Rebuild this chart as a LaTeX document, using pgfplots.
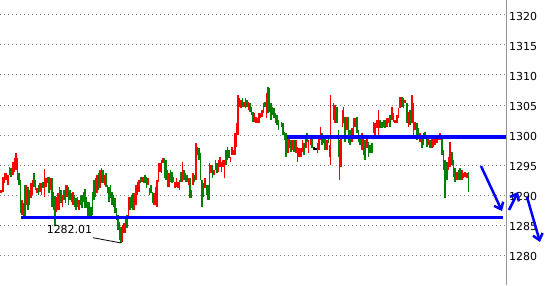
\documentclass[border=0pt]{standalone}
\usepackage{fontspec}
\setmainfont{DejaVu Sans}
\usepackage{pgfplots}
\pgfplotsset{compat=1.18}
\usepackage{pgfplotstable}
\usetikzlibrary{arrows.meta}
\definecolor{cred}{RGB}{255,0,0}
\definecolor{cgreen}{RGB}{0,128,0}
\definecolor{cblue}{RGB}{0,0,255}
\definecolor{cgrid}{RGB}{128,128,128}
\definecolor{caxis}{RGB}{150,150,150}

\pgfplotstableread{
x lo hi
1 1290.33 1290.83
3 1290.5 1293.0
4.5 1292.0 1293.67
6 1292.5 1293.67
8 1291.67 1293.33
9.5 1293.33 1294.67
13 1293.33 1295.5
14.5 1293.83 1296.17
16 1294.17 1297.0
22 1286.67 1289.17
26.5 1288.33 1291.67
31 1289.5 1292.0
32.5 1290.0 1292.5
35.5 1290.83 1292.5
37 1290.33 1291.17
40 1290.5 1292.0
41.5 1290.0 1292.0
44.5 1289.67 1294.33
46 1291.33 1292.83
47.5 1292.0 1293.0
50.5 1290.83 1292.83
56.5 1287.17 1289.67
58 1287.5 1290.33
62.5 1288.0 1290.0
65.5 1288.67 1291.67
67 1289.67 1291.67
71.5 1288.83 1290.33
73 1288.33 1290.5
77.5 1288.0 1289.67
79 1287.5 1289.17
83.5 1288.83 1290.5
89.5 1286.33 1288.83
95.5 1289.67 1292.83
97 1290.33 1293.33
100 1291.17 1294.17
101.5 1292.0 1294.5
104.5 1291.67 1293.33
107.5 1290.33 1291.67
122.5 1282.17 1285.0
124 1283.67 1285.33
125.5 1283.67 1286.17
128.5 1286.17 1289.67
131.5 1287.83 1290.0
134.5 1287.5 1290.33
136 1288.33 1291.67
137.5 1290.0 1292.17
139 1290.5 1292.5
142 1292.17 1293.0
143.5 1292.0 1293.0
148 1291.67 1292.83
154 1288.33 1290.33
157 1288.0 1292.5
158.5 1292.17 1295.33
160 1293.83 1295.33
163 1295.33 1296.17
169 1291.33 1293.67
173.5 1292.17 1293.0
175 1291.17 1292.17
176.5 1291.33 1292.83
178 1291.17 1292.17
179.5 1290.83 1292.5
182.5 1292.17 1295.5
185.5 1292.17 1293.67
188.5 1291.67 1292.83
193 1291.67 1293.67
196 1292.5 1298.67
197.5 1296.67 1298.0
205 1291.17 1292.83
209.5 1289.17 1295.33
211 1293.67 1295.0
214 1293.33 1294.17
215.5 1294.17 1295.83
218.5 1293.83 1295.83
220 1294.67 1296.33
223 1294.67 1295.83
224.5 1292.83 1295.83
230.5 1295.5 1296.33
232 1296.67 1298.0
235 1296.67 1300.33
236.5 1298.0 1302.0
238 1300.0 1306.67
241 1304.5 1305.83
244 1304.67 1305.5
248.5 1304.17 1305.5
254.5 1302.17 1303.67
256 1302.0 1303.0
259 1302.0 1303.67
260.5 1302.83 1303.67
262 1303.0 1304.17
263.5 1303.67 1305.33
266.5 1302.83 1307.0
269.5 1303.83 1307.83
281.5 1301.33 1302.17
287.7 1297.0 1299.67
289 1297.83 1299.5
292.3 1297.5 1299.17
295.7 1297.0 1299.17
299 1296.33 1297.83
300.7 1296.33 1297.83
302.3 1297.17 1299.17
305.7 1297.83 1299.5
308.3 1297.0 1299.17
310.3 1298.33 1299.5
319 1297.5 1299.67
320.3 1299.17 1301.33
326.7 1297.5 1299.17
329.3 1296.33 1298.33
330.3 1295.0 1306.67
335 1302.0 1305.0
340.7 1294.67 1299.67
342.3 1301.33 1304.17
346.7 1300.83 1303.0
351.7 1298.83 1301.17
353.3 1300.0 1302.83
355 1301.33 1302.83
361.7 1297.5 1300.33
366.7 1297.83 1299.5
373.3 1300.33 1302.17
375 1300.0 1302.0
376.7 1301.17 1302.5
378.3 1300.0 1304.17
383.3 1301.33 1302.5
386.7 1301.33 1302.83
388.3 1302.0 1302.83
391.7 1302.5 1304.67
395 1302.0 1302.5
396.7 1302.0 1303.33
398.3 1302.83 1304.5
400 1304.5 1306.33
403.3 1304.5 1306.17
405 1305.33 1305.83
408.3 1301.33 1303.83
411.7 1302.0 1306.67
415 1300.83 1302.17
420 1298.83 1300.33
428.3 1298.33 1299.5
431.7 1297.83 1299.67
433.3 1298.0 1299.67
435 1298.33 1299.67
436.7 1298.67 1299.67
438.3 1299.17 1300.0
440 1299.17 1300.33
448.3 1294.17 1296.33
450 1294.67 1298.83
456.7 1292.5 1293.83
461.7 1292.5 1294.17
463.3 1292.83 1293.67
465 1293.0 1293.83
466.7 1292.83 1293.67
}\redtab

\pgfplotstableread{
x lo hi
11 1293.0 1294.5
17.5 1292.5 1296.17
19 1291.67 1293.67
20.5 1287.0 1292.5
23.5 1286.17 1288.67
25 1286.33 1291.67
28 1287.5 1291.33
29.5 1288.33 1290.83
34 1291.33 1293.67
38.5 1290.0 1291.67
43 1291.17 1292.17
49 1290.33 1293.0
52 1288.0 1292.83
53.5 1287.5 1290.5
55 1284.83 1289.83
59.5 1287.5 1291.33
61 1288.67 1290.83
64 1289.17 1290.83
68.5 1288.33 1291.33
70 1289.17 1290.83
74.5 1288.0 1290.0
76 1287.5 1289.5
80.5 1288.33 1289.83
82 1287.83 1290.0
85 1287.83 1291.0
86.5 1287.83 1289.67
88 1286.17 1288.83
91 1286.33 1288.0
92.5 1286.67 1290.5
94 1289.17 1292.5
98.5 1290.83 1293.67
103 1292.0 1294.17
106 1291.33 1293.67
109 1288.83 1291.33
110.5 1289.5 1291.67
112 1288.33 1290.5
113.5 1288.0 1290.0
115 1287.0 1289.5
116.5 1285.83 1287.83
118 1284.17 1286.67
119.5 1282.5 1285.5
121 1282.01 1284.67
127 1284.5 1286.67
130 1287.5 1289.67
133 1287.5 1290.33
140.5 1292.0 1293.0
145 1292.0 1293.33
146.5 1291.17 1293.0
149.5 1290.0 1291.17
151 1290.33 1291.67
152.5 1288.67 1290.5
155.5 1288.33 1291.33
161.5 1293.67 1295.83
164.5 1292.83 1296.17
166 1292.5 1295.83
167.5 1291.33 1294.17
170.5 1292.17 1294.17
172 1292.0 1293.83
181 1292.17 1293.83
184 1292.5 1294.17
187 1292.17 1293.33
190 1289.5 1292.83
191.5 1289.5 1290.83
194.5 1292.17 1293.33
199 1295.83 1297.83
200.5 1292.5 1297.0
202 1288.0 1292.5
203.5 1289.67 1292.0
206.5 1290.0 1291.67
208 1289.17 1291.67
212.5 1292.83 1295.0
217 1293.67 1295.33
221.5 1293.83 1295.5
226 1295.0 1297.5
227.5 1295.83 1298.0
229 1296.17 1297.5
233.5 1296.67 1297.5
239.5 1304.67 1306.17
242.5 1304.67 1306.17
245.5 1304.5 1306.17
247 1304.67 1305.83
250 1303.83 1305.33
251.5 1303.33 1304.67
253 1302.17 1303.83
257.5 1302.0 1302.83
265 1304.67 1305.5
268 1303.67 1308.0
271 1302.5 1305.33
272.5 1303.33 1304.67
274 1302.83 1304.5
275.5 1302.0 1303.67
277 1301.67 1303.33
278.5 1300.83 1302.5
283 1300.0 1302.0
284.5 1299.17 1300.5
286 1296.33 1300.33
290.7 1297.17 1299.17
294 1297.17 1299.17
297.3 1295.5 1298.0
304 1296.67 1298.67
306.7 1298.83 1300.33
311.7 1297.83 1299.67
317.3 1297.0 1298.67
321.7 1298.33 1300.33
323.3 1298.67 1300.0
325 1297.5 1299.5
328.3 1298.67 1299.67
333.3 1302.5 1305.33
336.7 1302.0 1304.67
338.3 1296.33 1300.83
339.3 1292.5 1299.17
343.3 1302.0 1304.67
345 1298.83 1303.0
348.3 1298.67 1303.0
350 1298.33 1300.83
356.7 1300.33 1303.0
358.3 1298.83 1300.83
360 1298.33 1299.5
363.3 1296.67 1299.67
365 1295.83 1299.17
368.3 1296.33 1298.83
370 1297.0 1298.33
371.7 1297.0 1298.67
380 1301.17 1302.5
381.7 1301.17 1302.17
385 1301.17 1302.5
390 1301.33 1303.33
393.3 1302.17 1303.67
401.7 1304.67 1306.33
406.7 1302.0 1305.33
410 1301.67 1304.17
413.3 1300.0 1305.33
416.7 1299.17 1302.0
418.3 1299.5 1301.17
421.7 1297.83 1299.5
423.3 1298.33 1300.33
425 1299.5 1300.5
426.7 1298.0 1299.67
430 1297.83 1299.17
441.7 1296.67 1299.67
443.3 1294.17 1297.5
445 1289.5 1295.83
446.7 1292.5 1295.5
451.7 1295.0 1297.17
453.3 1293.0 1295.83
455 1292.17 1294.5
458.3 1292.5 1294.17
460 1292.5 1294.5
468.3 1290.5 1293.83
}\greentab

\pgfplotstableread{
x lo hi
314 1297.5 1298.0
315.7 1297.5 1297.83
}\blacktab

\begin{document}
\begin{tikzpicture}[x=1pt,y=1pt]
\useasboundingbox (0,0) rectangle (546,285);
\begin{axis}[
  at={(0,0)}, anchor=south west,
  scale only axis, width=506pt, height=285pt,
  xmin=0, xmax=506, ymin=1275, ymax=1322.5,
  clip=false,
  axis x line=none,
  axis y line*=right,
  y axis line style={draw=caxis, line width=1pt},
  ytick={1280,1285,1290,1295,1300,1305,1310,1315,1320},
  yticklabels={1280,1285,1290,1295,1300,1305,1310,1315,1320},
  major tick length=0pt,
  yticklabel style={anchor=west, inner sep=0pt, xshift=3pt, yshift=-1.5pt,
    font=\fontsize{11}{13}\selectfont, text=black},
  ymajorgrids,
  major grid style={cgrid, line width=1pt, dash pattern=on 1.2pt off 2.8pt},
  candle/.style={only marks, mark=*, mark size=0pt,
    mark options={draw=none, fill=none}},
]
\addplot[candle, error bars/.cd, y dir=plus, y explicit,
  error mark=none, error bar style={draw=cred, line width=1.6pt}]
  table[x=x, y=lo, y error expr=\thisrow{hi}-\thisrow{lo}] {\redtab};
\addplot[candle, error bars/.cd, y dir=plus, y explicit,
  error mark=none, error bar style={draw=cgreen, line width=1.6pt}]
  table[x=x, y=lo, y error expr=\thisrow{hi}-\thisrow{lo}] {\greentab};
\addplot[candle, error bars/.cd, y dir=plus, y explicit,
  error mark=none, error bar style={draw=black, line width=1.6pt}]
  table[x=x, y=lo, y error expr=\thisrow{hi}-\thisrow{lo}] {\blacktab};

% support and resistance lines
\addplot[cblue, line width=3.5pt] coordinates {(21,1286.22) (503,1286.22)};
\addplot[cblue, line width=3.5pt] coordinates {(287,1299.67) (506,1299.67)};

% trend line to the low
\addplot[black, line width=0.8pt] coordinates {(93,1282.88) (121,1282.01)};

% arrows
\addplot[cblue, line width=2.5pt, -{Straight Barb[length=6pt,width=10pt]}]
  coordinates {(481,1294.83) (502,1287.33)};
\addplot[cblue, line width=2.5pt, -{Straight Barb[length=6pt,width=10pt]}]
  coordinates {(509,1287.5) (518,1290.5)};
\addplot[cblue, line width=2.5pt, -{Straight Barb[length=6pt,width=10pt]}]
  coordinates {(527,1289.67) (540,1282.17)};

\node[font=\fontsize{11}{13}\selectfont, inner sep=0pt, text=black]
  at (axis cs:69.5,1284.33) {1282.01};
\end{axis}
\end{tikzpicture}
\end{document}
